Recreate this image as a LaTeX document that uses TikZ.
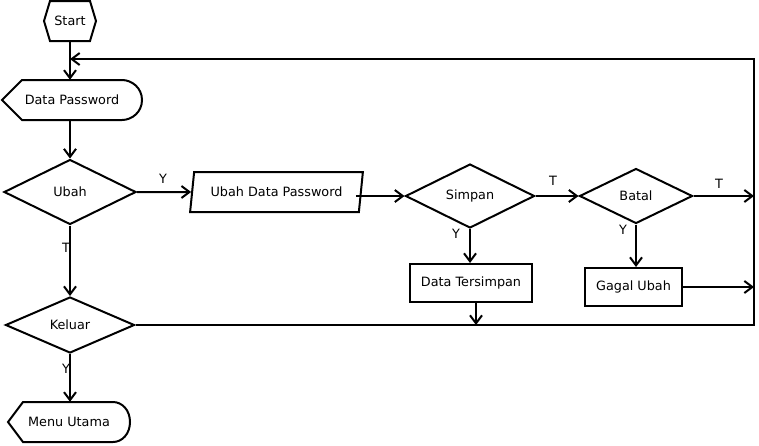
\documentclass[tikz,border=0pt]{standalone}
\usepackage{fontspec}
\setmainfont{DejaVu Sans}
\usetikzlibrary{shapes.geometric,arrows.meta,calc}
\begin{document}
\begin{tikzpicture}[x=1pt,y=-1pt,
  every node/.style={font=\fontsize{12.8}{15}\selectfont, inner sep=0pt},
  ln/.style={line width=2pt, line join=miter},
  arr/.style={ln, -{Straight Barb[length=8pt,width=12pt]}},
  dec/.style={diamond, draw, line width=2pt},
  box/.style={rectangle, draw, line width=2pt},
  lbl/.style={font=\fontsize{12.8}{15}\selectfont}
]
\useasboundingbox (0,0) rectangle (759,445);

% Start hexagon
\node (start) at (70,21) [minimum width=53pt, minimum height=40pt] {Start};
\draw[ln, shift={(start.center)}] (-26,0) -- (-20,-20) -- (20,-20) -- (26,0) -- (20,20) -- (-20,20) -- cycle;

% Data Password display
\node (dp) at (72,100) [minimum width=140pt, minimum height=40pt] {Data Password};
\draw[ln, shift={(dp.center)}] (-70,0) -- (-50,-20) -- (50,-20) .. controls (60,-20) and (70,-12) .. (70,0) .. controls (70,12) and (60,20) .. (50,20) -- (-50,20) -- cycle;

% Decisions
\node (ubah) at (70,192) [dec, minimum width=132pt, minimum height=65pt] {Ubah};
\node (keluar) at (70,325) [dec, minimum width=129pt, minimum height=56pt] {Keluar};
\node (simpan) at (470,196) [dec, minimum width=129pt, minimum height=64pt] {Simpan};
\node (batal) at (636,196) [dec, minimum width=113pt, minimum height=55pt] {Batal};

% Parallelogram
\node (udp) at (276.5,192) [trapezium, trapezium left angle=72, trapezium right angle=108, trapezium stretches=true, draw, line width=2pt, minimum width=173pt, minimum height=40pt] {Ubah Data Password};

% Boxes
\node (dt) at (471,283) [box, minimum width=122pt, minimum height=38pt] {Data Tersimpan};
\node (gu) at (633.5,287) [box, minimum width=97pt, minimum height=38pt] {Gagal Ubah};

% Menu Utama display
\node (mu) at (69,422) [minimum width=122pt, minimum height=40pt] {Menu Utama};
\draw[ln, shift={(mu.center)}] (-61,0) -- (-46,-20) -- (44,-20) .. controls (53,-20) and (61,-12) .. (61,0) .. controls (61,12) and (53,20) .. (44,20) -- (-46,20) -- cycle;

% loop corners
\coordinate (loopSE) at (754,325);
\coordinate (loopNE) at (754,59);

% connectors
\draw[arr] (start.south) -- (start.south |- dp.north);
\draw[arr] (keluar.east) -- (loopSE) -- (loopNE) -- (loopNE -| ubah.north);
\draw[arr] (ubah.north |- dp.south) -- (ubah.north);
\draw[arr] (ubah.east) -- (udp);
\draw[arr] (udp.east |- simpan.west) ++(-6,0) -- (simpan.west);
\draw[arr] (simpan.east) -- (batal.west);
\draw[arr] (simpan.south) -- (simpan.south |- dt.north);
\draw[arr] ([xshift=5pt]dt.south) -- ([xshift=5pt]dt.south |- keluar.east);
\draw[arr] (batal.east) -- (batal.east -| loopSE);
\draw[arr] (batal.south) -- (batal.south |- gu.north);
\draw[arr] (gu.east) -- (gu.east -| loopSE);
\draw[arr] (ubah.south) -- (keluar.north);
\draw[arr] (keluar.south) -- (keluar.south |- mu.north);

% labels
\node[lbl] (l1) at (163,179) {Y};
\node[lbl] (l2) at (66,248) {T};
\node[lbl] (l3) at (456,234) {Y};
\node[lbl] (l4) at (553,181) {T};
\node[lbl] (l5) at (719,184) {T};
\node[lbl] (l6) at (623,230) {Y};
\node[lbl] (l7) at (66,369) {Y};
\end{tikzpicture}
\end{document}
